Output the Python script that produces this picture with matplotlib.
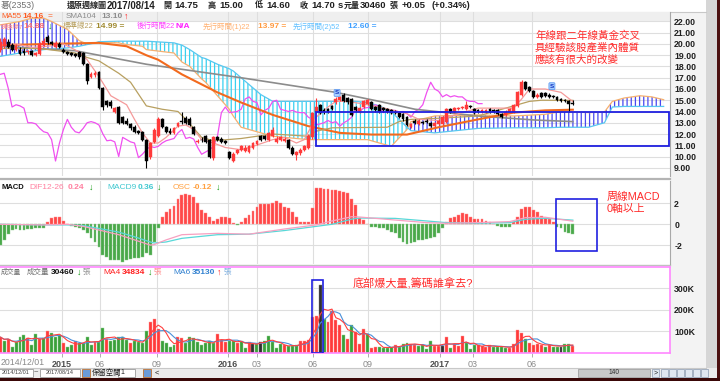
import numpy as np
import pandas as pd
import matplotlib
matplotlib.use("Agg")
import matplotlib.pyplot as plt
from matplotlib.patches import Rectangle

FONT = ['Liberation Sans', 'Noto Sans CJK TC', 'DejaVu Sans']
plt.rcParams['font.family'] = FONT
plt.rcParams['hatch.linewidth'] = 0.9

# 週K資料 (2014/12 ~ 2017/08/14)
opens = [19.5, 19.8, 20.2, 19.9, 19.5, 19.5, 19.4, 19.3, 19.4, 19.0,
         19.1, 19.9, 20.6, 20.2, 19.7, 20.0, 19.5, 19.3, 19.2, 19.1,
         19.3, 19.2, 18.2, 17.1, 17.2, 17.5, 16.1, 14.9, 14.8, 14.0,
         14.4, 13.5, 13.2, 12.9, 12.6, 12.3, 12.2, 11.5, 10.0, 11.3,
         11.8, 13.3, 12.6, 12.3, 12.1, 12.7, 13.2, 13.4, 13.3, 12.6,
         11.3, 11.5, 11.8, 11.5, 9.9, 11.7, 11.6, 11.4, 10.4, 9.6,
         10.3, 10.6, 10.5, 10.4, 10.8, 11.1, 11.8, 11.8, 11.5, 11.8,
         11.3, 11.5, 11.4, 11.5, 10.8, 10.1, 10.3, 10.6, 10.8, 11.7,
         14.0, 14.6, 14.1, 14.2, 14.5, 14.8, 15.0, 15.5, 15.2, 15.1,
         14.4, 14.0, 14.4, 14.7, 14.8, 14.4, 14.6, 14.3, 14.2, 14.1,
         14.0, 13.9, 13.8, 13.5, 12.6, 13.2, 12.9, 13.1, 13.2, 13.0,
         12.7, 12.9, 12.9, 13.1, 14.2, 14.0, 14.2, 14.3, 14.2, 14.5,
         14.2, 14.1, 13.95, 14.0, 14.2, 14.1, 14.1, 13.8, 13.7, 14.0,
         14.0, 14.5, 15.5, 16.6, 16.2, 15.8, 15.3, 15.6, 15.6, 15.5,
         15.4, 15.3, 15.1, 15.0, 14.9, 14.75]
highs = [20.5, 20.6, 20.4, 20.1, 20.0, 19.7, 19.6, 19.5, 19.5, 19.3,
         20.2, 20.5, 20.8, 20.3, 20.3, 20.2, 19.6, 19.4, 19.3, 19.2,
         19.4, 19.3, 18.3, 17.5, 17.6, 17.6, 16.2, 15.0, 15.0, 14.4,
         14.5, 13.6, 13.4, 13.0, 12.8, 12.4, 12.3, 11.6, 11.3, 12.5,
         13.5, 13.4, 12.7, 12.5, 12.6, 13.1, 14.0, 13.6, 13.5, 12.7,
         11.6, 11.7, 11.9, 11.6, 11.8, 11.8, 11.7, 11.5, 10.5, 10.4,
         10.7, 11.0, 11.0, 11.0, 11.3, 11.5, 11.9, 11.9, 12.2, 12.6,
         11.8, 11.8, 11.7, 11.6, 10.9, 10.5, 10.8, 11.0, 12.0, 14.0,
         15.2, 14.7, 14.3, 14.3, 14.6, 15.3, 15.4, 15.6, 15.3, 15.2,
         14.5, 14.4, 15.0, 15.1, 14.9, 14.5, 14.7, 14.4, 14.3, 14.2,
         14.1, 14.0, 13.9, 13.6, 13.0, 13.3, 13.3, 13.2, 13.3, 13.1,
         13.1, 13.3, 13.6, 14.3, 14.3, 14.4, 14.4, 14.5, 14.9, 14.6,
         14.3, 14.2, 14.2, 14.2, 14.3, 14.2, 14.2, 13.9, 14.1, 14.3,
         14.7, 15.8, 16.8, 16.7, 16.3, 15.9, 15.6, 15.7, 15.7, 15.6,
         15.5, 15.4, 15.2, 15.1, 15.0, 15.0]
lows = [19.3, 19.6, 19.6, 19.4, 19.4, 19.0, 19.0, 19.1, 18.9, 18.9,
        19.0, 19.8, 20.0, 19.9, 19.6, 19.6, 19.2, 19.0, 18.9, 18.8,
        18.7, 18.1, 16.4, 17.0, 17.1, 16.0, 14.1, 14.4, 14.3, 13.9,
        12.9, 12.9, 12.8, 12.4, 12.1, 12.0, 11.4, 9.0, 9.8, 11.2,
        11.7, 12.5, 12.1, 12.0, 12.0, 12.6, 12.9, 12.9, 12.7, 11.9,
        11.2, 11.3, 11.2, 9.9, 9.7, 11.4, 11.2, 11.1, 9.8, 9.5,
        10.2, 10.5, 10.4, 10.3, 10.7, 11.0, 11.4, 11.5, 11.4, 11.7,
        11.2, 11.4, 11.3, 10.7, 10.1, 9.7, 10.1, 10.5, 10.7, 11.6,
        13.9, 13.8, 13.8, 13.9, 14.1, 14.7, 14.9, 14.8, 14.7, 13.6,
        14.0, 13.9, 14.3, 14.6, 14.1, 14.0, 13.9, 14.0, 13.9, 13.8,
        13.8, 13.4, 13.2, 12.7, 12.5, 12.9, 12.8, 12.9, 13.0, 12.6,
        12.6, 12.8, 12.8, 13.0, 13.9, 13.9, 14.1, 14.2, 14.1, 14.3,
        13.8, 13.9, 13.9, 13.9, 13.9, 13.9, 13.7, 13.4, 13.6, 13.9,
        13.9, 14.4, 15.4, 15.9, 15.7, 15.2, 15.2, 15.2, 15.3, 15.2,
        15.2, 14.9, 14.8, 14.8, 14.0, 14.6]
closes = [20.2, 20.4, 19.7, 19.5, 19.8, 19.1, 19.2, 19.3, 19.0, 19.2,
          20.0, 20.3, 20.2, 20.0, 20.1, 19.7, 19.3, 19.1, 19.0, 18.95,
          18.8, 18.2, 16.7, 17.3, 17.4, 16.1, 14.4, 14.6, 14.5, 14.3,
          13.0, 13.0, 12.9, 12.5, 12.2, 12.1, 11.5, 9.6, 11.2, 12.4,
          13.3, 12.6, 12.2, 12.1, 12.5, 13.0, 13.1, 13.0, 12.8, 12.0,
          11.4, 11.45, 11.3, 10.0, 11.7, 11.5, 11.3, 11.2, 9.9, 10.2,
          10.6, 10.9, 10.8, 10.9, 11.2, 11.4, 11.5, 11.6, 12.1, 12.4,
          11.6, 11.7, 11.55, 10.8, 10.2, 10.4, 10.6, 10.9, 11.8, 13.9,
          14.4, 13.9, 13.95, 14.0, 14.2, 15.1, 15.3, 14.9, 14.8, 13.7,
          14.1, 14.3, 14.9, 15.0, 14.2, 14.1, 14.0, 14.1, 13.95, 13.9,
          13.9, 13.5, 13.3, 12.8, 12.9, 13.0, 13.2, 13.0, 13.1, 12.7,
          13.0, 13.2, 13.5, 14.2, 14.0, 14.3, 14.35, 14.4, 14.6, 14.4,
          13.9, 14.0, 14.1, 14.1, 13.95, 14.0, 13.8, 13.5, 14.0, 14.2,
          14.6, 15.7, 16.6, 16.0, 15.8, 15.3, 15.5, 15.3, 15.4, 15.3,
          15.3, 15.0, 14.9, 14.9, 14.7, 14.7]

# 成交量 (千張) 與漲跌顏色 r=漲 g=跌 k=平
volumes = [72, 52, 65, 26, 49, 72, 80, 68, 37, 85,
           62, 70, 99, 91, 72, 80, 46, 26, 37, 52,
           45, 45, 71, 37, 49, 49, 117, 62, 54, 57,
           72, 72, 60, 46, 52, 49, 46, 103, 142, 157,
           111, 56, 45, 28, 37, 71, 68, 46, 71, 68,
           49, 37, 46, 52, 45, 88, 57, 48, 56, 52,
           46, 56, 22, 49, 42, 42, 49, 56, 76, 49,
           22, 38, 34, 29, 29, 34, 56, 52, 59, 165,
           173, 315, 157, 145, 196, 153, 127, 83, 65, 127,
           96, 40, 111, 88, 22, 26, 26, 22, 22, 24,
           37, 28, 40, 46, 40, 34, 31, 34, 15, 56,
           31, 32, 31, 71, 22, 42, 31, 77, 46, 15,
           37, 34, 32, 28, 34, 25, 26, 28, 23, 22,
           42, 106, 91, 62, 46, 34, 42, 37, 28, 37,
           28, 28, 28, 42, 40, 30.46]
vol_dir = ("rgrggggrgg" "rgrgggrggr" "ggggrggrgg" "gggrggggrr" "rggggrrggg"
           "gggggrrrgg" "rggrkgkggg" "ggrgggrrrr" "rkgrrrrgrg" "rrrgrrgggg"
           "rgggrrgggg" "rrkrgrrrgg" "grrrrggggr" "rrrgrrrrgr" "ggkggr")

# MACD 柱狀 (OSC)
osc = [-1.98, -1.5, -0.96, -0.54, -0.45, -0.54, -0.54, -0.48, -0.48, -0.38,
       -0.35, -0.32, 0.26, 0.58, 0.67, 0.67, 0.32, 0.03, -0.13, -0.22,
       -0.32, -0.54, -0.86, -1.34, -1.66, -2.14, -2.94, -3.17, -3.42, -3.42,
       -3.42, -3.58, -3.42, -3.33, -3.26, -3.26, -3.1, -2.78, -2.94, -1.66,
       -0.38, 0.67, 1.15, 1.44, 1.76, 2.4, 2.82, 2.88, 2.8, 2.66,
       2.02, 1.38, 1.06, 0.74, 0.32, 0.51, 0.67, 0.74, 0.64, 0.1,
       -0.06, 0.26, 0.64, 0.9, 1.28, 1.7, 1.95, 1.95, 1.95, 2.02,
       2.27, 2.02, 1.7, 1.54, 1.22, 0.74, 0.26, 0.26, 0.26, 1.54,
       3.46, 3.46, 3.39, 3.39, 3.33, 3.33, 3.23, 3.1, 2.98, 2.43,
       1.86, 0.6, 0.42, 0.03, -0.22, -0.22, -0.32, -0.38, -0.54, -0.7,
       -0.86, -1.34, -1.66, -1.92, -1.82, -1.66, -1.5, -1.5, -1.44, -1.34,
       -1.18, -0.86, -0.38, 0.26, 0.58, 0.74, 0.9, 1.06, 0.99, 0.74,
       0.51, 0.48, 0.48, 0.35, 0.19, 0.05, -0.15, -0.29, -0.29, -0.22,
       0.19, 0.74, 1.47, 1.7, 1.7, 1.38, 1.15, 0.83, 0.58, 0.48,
       0.26, -0.29, -0.38, -0.77, -0.85, -0.96]

# DIF / MACD9 線 (讀圖取點)
macd_idx = [0, 11, 17, 21, 25, 30, 34, 38, 39, 42, 46, 55, 63, 72, 80, 84,
            89, 91, 100, 108, 113, 121, 129, 133, 138, 145]
dif_val = [0.0, -0.06, 0.0, -0.2, -0.55, -1.0, -1.5, -2.0, -1.95, -1.5, -1.0,
           -0.87, -0.95, -0.45, -0.06, 0.32, 0.73, 0.7, 0.41, 0.16, 0.1, 0.16,
           0.26, 0.64, 0.68, 0.3]
sig_val = [0.0, -0.06, -0.06, -0.12, -0.4, -0.75, -1.2, -1.7, -1.8, -1.7,
           -1.35, -1.0, -0.95, -0.6, -0.2, 0.0, 0.5, 0.6, 0.57, 0.32, 0.16,
           0.1, 0.16, 0.48, 0.58, 0.4]

# 均線 (讀圖取點)
ma55_idx = [0, 12, 25, 32, 37, 40, 46, 55, 61, 69, 78, 86, 94, 103, 111, 121,
            130, 138, 145]
ma55_val = [19.9, 20.0, 20.1, 19.8, 19.0, 18.6, 17.3, 15.7, 14.8, 13.7, 12.7,
            12.1, 11.95, 11.95, 12.6, 13.3, 13.9, 14.1, 14.16]
sma104_idx = [0, 19, 37, 61, 85, 96, 105, 121, 135, 145]
sma104_val = [19.8, 19.4, 18.2, 17.0, 15.7, 14.9, 14.2, 13.6, 13.25, 13.10]

# 一目均衡表
tenkan_idx = [0, 4, 8, 12, 16, 20, 22, 25, 28, 32, 34, 36, 38, 40, 42, 45, 47,
              49, 51, 54, 57, 61, 64, 69, 72, 75, 77, 80, 83, 85, 88, 93, 96,
              103, 106, 111, 116, 121, 130, 132, 134, 138, 142, 145]
tenkan_val = [19.9, 20.0, 19.7, 19.8, 20.0, 19.3, 18.6, 17.1, 15.4, 14.6, 13.3,
              12.1, 11.2, 11.2, 11.7, 12.7, 12.8, 12.4, 11.5, 11.2, 10.8, 10.6,
              10.9, 11.5, 11.7, 11.2, 11.5, 13.5, 14.4, 14.9, 14.9, 14.6, 14.4,
              13.8, 13.3, 13.2, 13.8, 14.3, 14.3, 15.1, 16.0, 16.0, 15.7, 14.88]
kijun_idx = [0, 10, 19, 22, 25, 30, 33, 37, 41, 45, 47, 51, 54, 61, 69, 78, 80,
             84, 98, 101, 104, 111, 121, 130, 134, 137, 145]
kijun_val = [19.6, 19.6, 19.2, 18.8, 18.5, 17.4, 16.6, 14.5, 14.2, 14.0, 13.3,
             11.7, 11.4, 11.6, 12.0, 11.8, 12.25, 12.55, 12.6, 13.1, 13.3, 13.4,
             13.6, 14.5, 14.9, 15.0, 14.99]
chikou_shift = 23
span_idx = [0, 5, 8, 11, 13, 17, 20, 22, 24, 25, 30, 32, 36, 37, 44, 46, 48, 51,
            52, 55, 58, 59, 61, 66, 69, 78, 80, 86, 90, 93, 96, 99, 103, 104,
            110, 121, 130, 138, 142, 145, 149, 153, 155, 158, 162, 165, 168]
span_a = [21.7, 22.0, 22.3, 22.3, 22.0, 21.3, 20.3, 20.0, 20.1, 20.15, 20.1,
          19.95, 19.8, 19.5, 19.2, 18.4, 18.0, 16.9, 16.6, 15.4, 14.2, 13.6,
          12.6, 12.1, 11.8, 11.5, 11.5, 11.5, 11.5, 11.5, 11.2, 10.9, 12.4,
          13.1, 13.6, 13.7, 13.6, 13.75, 14.0, 13.97, 13.9, 13.95, 14.9, 15.2,
          15.4, 15.3, 15.05]
span_b = [18.9, 19.2, 19.35, 19.5, 19.55, 19.65, 19.8, 19.95, 20.1, 20.2, 20.25,
          20.25, 20.25, 20.25, 20.1, 19.9, 19.5, 18.8, 18.7, 18.2, 17.8, 17.6,
          17.0, 15.5, 14.9, 14.9, 14.9, 14.9, 14.9, 14.8, 14.5, 14.0, 12.6,
          12.3, 12.1, 12.5, 12.55, 12.55, 12.6, 12.6, 12.6, 13.0, 14.4, 14.45,
          14.45, 14.45, 14.45]

tick_pos = [15.6, 25.3, 39.7, 57.7, 65.0, 79.2, 93.1, 111.3, 119.7, 134.6]
tick_lab = ['2015', '06', '09', '2016', '03', '06', '09', '2017', '03', '06']

N = len(closes)
x = np.arange(N)
o = np.array(opens)
c = np.array(closes)
XL = (-0.06, 169.6)
GRID = '#dedede'

fig = plt.figure(figsize=(7.2, 3.81), dpi=100)
W, H = 720.0, 381.0


def panel(y0, y1):
    a = fig.add_axes([0, 1 - y1 / H, 670 / W, (y1 - y0) / H], zorder=2)
    a.set_xlim(*XL)
    for s in ['top', 'left', 'bottom']:
        a.spines[s].set_visible(False)
    a.spines['right'].set_color('#a8a8a8')
    a.yaxis.tick_right()
    a.tick_params(axis='y', length=0, pad=3, labelsize=6.3)
    a.set_xticks([])
    for t in tick_pos:
        a.axvline(t, color=GRID, lw=0.8, zorder=0.5)
    return a


def bold_labels(a):
    for lb in a.get_yticklabels():
        lb.set_fontweight('bold')
        lb.set_color('#202020')


# 背景
bg = fig.add_axes([0, 0, 1, 1], zorder=0)
bg.set_xlim(0, W)
bg.set_ylim(H, 0)
bg.axis('off')
bg.add_patch(Rectangle((670, 12), 36, 356, color='#f3f3f3', lw=0))
bg.add_patch(Rectangle((706, 0), 11, 368, color='#d6d6d6', lw=0))
bg.add_patch(Rectangle((717, 0), 3, 381, color='#4a1010', lw=0))
bg.plot([0, 706], [12, 12], color='#c8c8c8', lw=0.8)
bg.plot([0, 670], [179, 179], color='#b4b4b4', lw=1.6)
bg.plot([0, 670], [265, 265], color='#c0c0c0', lw=1.0)
bg.plot([0, 706], [367.5, 367.5], color='#c8c8c8', lw=0.8)
bg.add_patch(Rectangle((0, 368), 717, 10, color='#ececec', lw=0))
bg.add_patch(Rectangle((0, 378), 720, 3, color='#3a0808', lw=0))
# 工具列
bg.add_patch(Rectangle((-6, 369), 39, 8, fc='white', ec='#9a9a9a', lw=0.6))
bg.add_patch(Rectangle((40, 369), 40, 8, fc='white', ec='#9a9a9a', lw=0.6))
bg.add_patch(Rectangle((82, 369), 8, 8, fc='#6a9ad8', ec='#c07030', lw=0.6))
bg.add_patch(Rectangle((118, 369), 17, 8, fc='white', ec='#9a9a9a', lw=0.6))
bg.add_patch(Rectangle((143, 369), 8, 8, fc='#6a9ad8', ec='#c07030', lw=0.6))
bg.add_patch(Rectangle((578, 369), 72, 8, fc='#c8c8c8', ec='#a0a0a0', lw=0.6))
for bx in [652, 661, 669, 677, 685, 693, 701]:
    bg.add_patch(Rectangle((bx, 369), 7, 8, fc='#dfe6f0', ec='#8a9ab0', lw=0.5))
bg.text(16, 373, '2014/12/01', fontsize=4.0, ha='center', va='center', color='#404040')
bg.text(60, 373, '2017/08/14', fontsize=4.0, ha='center', va='center', color='#404040')
bg.text(36, 373, '~', fontsize=5.5, ha='center', va='center', color='#404040')
bg.text(92, 373, '保留空間', fontsize=5.3, va='center', color='#202020')
bg.text(120, 373, '1', fontsize=5, va='center', color='#202020')
bg.text(155, 373, '<', fontsize=5.5, va='center', color='#202020')
bg.text(614, 373, '140', fontsize=4.8, ha='center', va='center', color='#303030')
bg.text(655.5, 373, '>', fontsize=5, ha='center', va='center', color='#202020')

# 價格圖
ax1 = panel(12, 176)
ax1.set_ylim(8.267, 22.844)
ax1.axhspan(22.04, 22.844, color='#efefef', lw=0, zorder=0.2)
for p in range(9, 23):
    ax1.axhline(p, color=GRID, lw=0.8, zorder=0.5)
ax1.set_yticks(range(9, 23))
ax1.set_yticklabels([f'{p:.2f}' for p in range(9, 23)])
bold_labels(ax1)

sa = np.array(span_a)
sb = np.array(span_b)
ax1.fill_between(span_idx, sa, sb, where=sa >= sb, interpolate=True,
                 facecolor='none', edgecolor='#4848f0', hatch='||||', lw=0, zorder=1)
ax1.fill_between(span_idx, sa, sb, where=sa < sb, interpolate=True,
                 facecolor='none', edgecolor='#38d0f0', hatch='||||', lw=0, zorder=1)
ax1.plot(span_idx, span_a, color='#f5b070', lw=0.9, zorder=2)
ax1.plot(span_idx, span_b, color='#58c8f0', lw=0.9, zorder=2)

ax1.plot(x[:N - chikou_shift], closes[chikou_shift:], color='#f050f0', lw=0.9, zorder=3)
ax1.plot(sma104_idx, sma104_val, color='#8c8c8c', lw=1.2, zorder=3)
ax1.plot(ma55_idx, ma55_val, color='#f26a1e', lw=1.5, zorder=3)
ax1.plot(kijun_idx, kijun_val, color='#b8a060', lw=0.9, zorder=3)
ax1.plot(tenkan_idx, tenkan_val, color='#f59a9a', lw=0.9, zorder=3)

up = c >= o
ccol = np.where(up, '#ff3a3a', '#000000')
ax1.vlines(x, lows, highs, colors=ccol, lw=0.8, zorder=4)
ax1.bar(x, np.maximum(np.abs(c - o), 0.05), bottom=np.minimum(o, c), width=0.72,
        color=ccol, edgecolor=ccol, lw=0.3, zorder=5)

ax1.add_patch(Rectangle((79.9, 10.95), 169.3 - 79.9, 3.05, fill=False,
                        ec='#2020e0', lw=1.3, zorder=6))
for sx, sy in [(85.3, 15.65), (139.7, 16.25)]:
    ax1.text(sx, sy, 'S', fontsize=4.5, fontweight='bold', color='#1030c0',
             ha='center', va='center', zorder=7,
             bbox=dict(boxstyle='round,pad=0.15', fc='#a8d0ff', ec='#5090f0', lw=0.5))

# MACD
ax2 = panel(181, 264)
ax2.set_ylim(-3.817, 4.163)
for v in [-2, 0, 2]:
    ax2.axhline(v, color=GRID, lw=0.8, zorder=0.5)
ax2.set_yticks([-2, 0, 2])
ax2.set_yticklabels(['-2', '0', '2'])
bold_labels(ax2)
oa = np.array(osc)
ax2.bar(x, oa, width=0.72, color=np.where(oa >= 0, '#ff4848', '#4aa84a'),
        edgecolor=np.where(oa >= 0, '#ff9090', '#8ccc8c'), lw=0.3, zorder=2)
ax2.plot(macd_idx, sig_val, color='#58d8d8', lw=0.9, zorder=3)
ax2.plot(macd_idx, dif_val, color='#f7a0c0', lw=0.9, zorder=3)
ax2.add_patch(Rectangle((140.7, -2.57), 10.4, 5.0, fill=False, ec='#2020e0', lw=1.2, zorder=6))

# 成交量
ax3 = panel(267, 353)
ax3.set_ylim(-2.3, 400.5)
for s in ['top', 'bottom', 'right']:
    ax3.spines[s].set_visible(True)
    ax3.spines[s].set_color('#ff88ff')
    ax3.spines[s].set_linewidth(1.2)
for v in [100, 200, 300]:
    ax3.axhline(v, color=GRID, lw=0.8, zorder=0.5)
ax3.set_yticks([100, 200, 300])
ax3.set_yticklabels(['100K', '200K', '300K'])
bold_labels(ax3)
vcol = {'r': '#ff3a3a', 'g': '#3aa03a', 'k': '#303030'}
vedge = {'r': '#ff9a9a', 'g': '#90d090', 'k': '#808080'}
ax3.bar(x, volumes, width=0.75, color=[vcol[d] for d in vol_dir],
        edgecolor=[vedge[d] for d in vol_dir], lw=0.3, zorder=2)
vs = pd.Series(volumes)
ax3.plot(x, vs.rolling(6, min_periods=1).mean(), color='#4a90d9', lw=0.8, zorder=3)
ax3.plot(x, vs.rolling(4, min_periods=1).mean(), color='#ff4040', lw=0.8, zorder=3)
ax3.add_patch(Rectangle((78.9, -2), 2.9, 342, fill=False, ec='#2020e0', lw=1.2, zorder=6))
ax3.set_xticks(tick_pos)
ax3.set_xticklabels(tick_lab)
ax3.tick_params(axis='x', length=3, width=0.6, color='#a0a0a0', pad=2,
                labelsize=6.5, labelcolor='#8a8a8a')
for lb in ax3.get_xticklabels():
    if len(lb.get_text()) == 4:
        lb.set_fontweight('bold')
        lb.set_color('#505050')

# 文字層
fg = fig.add_axes([0, 0, 1, 1], zorder=10)
fg.set_xlim(0, W)
fg.set_ylim(H, 0)
fg.axis('off')
fg.patch.set_alpha(0)


def put(px, py, s, color, size=6.0, bold=False):
    fg.text(px, py, s, color=color, fontsize=size, fontweight='bold' if bold else 'normal',
            ha='left', va='center')


GREEN = '#109a10'
# 標題列
put(1, 6, '碁(2353)', '#707070', 6.3)
put(67, 6, '還原週線圖', '#202020', 5.8, True)
put(107, 6, '2017/08/14', '#202020', 7.0, True)
for px, s in [(163, '開'), (208, '高'), (255, '低'), (300, '收'), (344, '元'), (351, '量'), (390, '張')]:
    put(px, 6, s, '#202020', 5.8, True)
for px, s in [(174, '14.75'), (219, '15.00'), (266, '14.60'), (311, '14.70'),
              (338, 's'), (360, '30460'), (402, '+0.05'), (432, '(+0.34%)')]:
    put(px, 6, s, '#202020', 6.8, True)

# 價格圖例
put(1, 16.5, 'MA55', '#ff5a1e', 5.6)
put(22, 16.5, '14.16', '#ff5a1e', 6.0, True)
put(48, 16.5, '=', '#ff5a1e', 6.0)
put(66, 16.5, 'SMA104', '#8c8c8c', 5.8)
put(101, 16.5, '13.10', '#8c8c8c', 6.0, True)
put(124, 16.5, '↑', '#ff2020', 6.3, True)
put(1, 26.5, '轉換線7', '#ff8a8a', 4.5)
put(23, 26.5, '14.88', '#ff7070', 6.0, True)
put(48, 26.5, '↓', GREEN, 6.3, True)
put(63, 26.5, '標準線22', '#b8a060', 5.4)
put(96, 26.5, '14.99 =', '#a08a30', 6.0, True)
put(137, 26.5, '後行時間22', '#ff40ff', 5.4)
put(176, 26.5, 'N/A', '#ff20ff', 6.0, True)
put(203, 26.5, '先行時間(1)22', '#ffb070', 5.4)
put(258, 26.5, '13.97 =', '#ff9a40', 6.0, True)
put(293, 26.5, '先行時間(2)52', '#60c0ff', 5.4)
put(348, 26.5, '12.60 =', '#40a0ff', 6.0, True)

# MACD 圖例
put(1, 187.5, 'MACD', '#101010', 5.5, True)
put(29, 187.5, 'DIF12-26', '#ff80a0', 6.0)
put(68, 187.5, '0.24', '#ff80a0', 6.0, True)
put(89, 187.5, '↓', GREEN, 6.3, True)
put(107, 187.5, 'MACD9', '#40c8d0', 6.0)
put(138, 187.5, '0.36', '#40c8d0', 6.0, True)
put(157, 187.5, '↓', GREEN, 6.3, True)
put(173, 187.5, 'OSC', '#ffa040', 6.0)
put(193, 187.5, '-0.12', '#ffa040', 6.0, True)
put(216, 187.5, '↓', GREEN, 6.3, True)

# 成交量圖例
put(1, 272.5, '成交量', '#707070', 4.9)
put(27, 272.5, '成交量', '#707070', 5.4)
put(51, 272.5, '30460', '#101010', 6.0, True)
put(77, 272.5, '↓', GREEN, 6.3, True)
put(83, 272.5, '張', '#909090', 5.4)
put(103, 272.5, 'MA4', '#ff2020', 6.0)
put(122, 272.5, '34834', '#ff2020', 6.0, True)
put(148, 272.5, '↓', GREEN, 6.3, True)
put(154, 272.5, '張', '#ff9090', 5.4)
put(173, 272.5, 'MA6', '#3080d0', 6.0)
put(192, 272.5, '35130', '#3080d0', 6.0, True)
put(217, 272.5, '↑', '#ff2020', 6.3, True)
put(224, 272.5, '張', '#80b0e0', 5.4)

put(1, 362.5, '2014/12/01', '#8a8a8a', 6.3)

# 註解
RED = '#ff2a2a'
put(535, 36, '年線跟二年線黃金交叉', RED, 7.6)
put(535, 48, '具經驗該股產業內體質', RED, 7.6)
put(535, 60, '應該有很大的改變', RED, 7.6)
put(607, 197, '周線MACD', RED, 7.8)
put(607, 209, '0軸以上', RED, 7.8)
put(353, 283, '底部爆大量,籌碼誰拿去?', RED, 8.0)

fig.savefig('out.png', dpi=100)
